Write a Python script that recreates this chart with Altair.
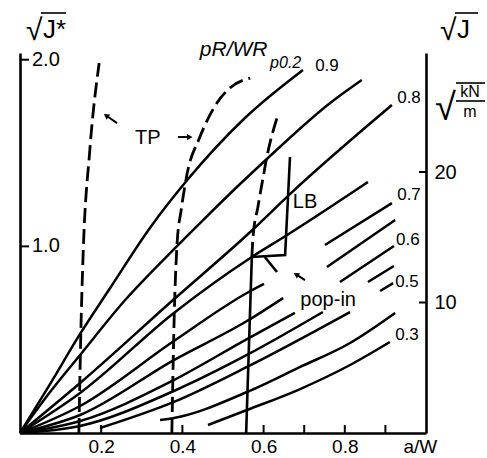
import altair as alt
import pandas as pd

FONT = "Liberation Sans"

# Constant-load curves pR/WR_p0.2: crack depth a/W against sqrt(J) in sqrt(kN/m)
AW_90 = [0, 0.074, 0.148, 0.222, 0.320, 0.414, 0.554, 0.697]
SJ_90 = [0, 3.75, 7.59, 11.11, 15.71, 19.46, 24.14, 27.82]
AW_85 = [0, 0.074, 0.148, 0.259, 0.377, 0.451, 0.542, 0.608, 0.764, 0.842]
SJ_85 = [0, 3.14, 5.98, 10.19, 14.02, 16.32, 19.08, 21.00, 25.29, 27.05]
AW_80 = [0, 0.148, 0.377, 0.567, 0.665, 0.916]
SJ_80 = [0, 3.83, 10.19, 15.40, 18.31, 25.13]
AW_75 = [0, 0.148, 0.379, 0.571, 0.658, 0.857]
SJ_75 = [0, 3.07, 9.20, 13.49, 15.17, 19.23]
AW_70 = [0, 0.148, 0.379, 0.559, 0.601]
SJ_70 = [0, 2.07, 7.05, 10.73, 11.42]
AW_70B = [0.751, 0.916]
SJ_70B = [14.41, 17.62]
AW_65 = [0, 0.148, 0.379, 0.559, 0.648]
SJ_65 = [0, 1.38, 5.59, 8.58, 10.34]
AW_65B = [0.756, 0.924]
SJ_65B = [12.72, 16.32]
AW_60 = [0, 0.148, 0.379, 0.559, 0.677]
SJ_60 = [0, 0.92, 4.06, 7.20, 9.20]
AW_60B = [0.788, 0.921]
SJ_60B = [11.57, 14.33]
AW_55 = [0, 0.148, 0.379, 0.559, 0.746]
SJ_55 = [0, 0.54, 3.22, 5.98, 9.27]
AW_55B = [0.857, 0.921]
SJ_55B = [11.57, 12.80]
AW_50 = [0.197, 0.379, 0.559, 0.813]
SJ_50 = [0.38, 2.38, 5.06, 9.27]
AW_50B = [0.887, 0.919]
SJ_50B = [10.88, 11.49]
AW_40 = [0.345, 0.379, 0.559, 0.690, 0.813, 0.924]
SJ_40 = [1.00, 1.15, 3.14, 5.06, 6.90, 9.20]
AW_30 = [0.463, 0.559, 0.690, 0.813, 0.911]
SJ_30 = [0.61, 1.76, 3.37, 5.21, 6.97]

# Transition (TP) boundaries, dashed
AW_TP1 = [0.145, 0.150, 0.155, 0.172, 0.195]
SJ_TP1 = [0, 7.89, 13.26, 21.69, 28.35]
AW_TP2 = [0.374, 0.379, 0.387, 0.397, 0.411, 0.443, 0.485, 0.517, 0.567]
SJ_TP2 = [0, 7.89, 14.56, 17.09, 19.77, 22.68, 25.29, 26.44, 27.20]
AW_TP3 = [0.571, 0.574, 0.586, 0.599, 0.608, 0.633]
SJ_TP3 = [13.49, 15.02, 17.32, 19.62, 21.15, 24.14]
# solid lower part of the third boundary
AW_TP3S = [0.557, 0.571]
SJ_TP3S = [0, 13.49]
# limit-load (LB) boundary and pop-in mark
AW_LB = [0.571, 0.653, 0.665]
SJ_LB = [13.49, 13.64, 21.15]
AW_POP = [0.603, 0.633]
SJ_POP = [13.49, 12.34]

# Curve end labels
LOAD_LABELS = ["0.9", "0.8", "0.7", "0.6", "0.5", "0.3"]
LOAD_LABEL_AW = [0.727, 0.929, 0.929, 0.926, 0.924, 0.924]
LOAD_LABEL_SJ = [28.12, 25.67, 18.24, 14.79, 11.57, 7.51]

# Region annotations
NOTE_TEXT = ["TP", "LB", "pop-in"]
NOTE_AW = [0.315, 0.702, 0.759]
NOTE_SJ = [22.61, 17.70, 10.19]

# Arrows: tail and head positions, head direction in degrees
ARROW_TAIL_AW = [0.239, 0.389, 0.702]
ARROW_TAIL_SJ = [23.75, 22.68, 11.72]
ARROW_HEAD_AW = [0.214, 0.416, 0.682]
ARROW_HEAD_SJ = [24.29, 22.68, 12.11]
ARROW_ANGLE = [305, 90, 302]

# Axes
X_TICKS = [0.2, 0.4, 0.6, 0.7, 0.8, 0.9]
X_LABELS = [0.2, 0.4, 0.6, 0.8, 0.985]
RIGHT_TICKS = [10, 20]
LEFT_TICKS = [1.0, 2.0]
LEFT_TICK_LABELS = ["1.0", "2.0"]

W, H = 406, 380
SJ_MAX = 29.12
LEFT_MAX = 2.036


def frame(pairs):
    rows = []
    for name, aw, sj in pairs:
        for k, (a, s) in enumerate(zip(aw, sj)):
            rows.append({"seg": name, "aw": a, "sj": s, "k": k})
    return pd.DataFrame(rows)


curves = frame([
    ("0.9", AW_90, SJ_90), ("0.85", AW_85, SJ_85), ("0.8", AW_80, SJ_80),
    ("0.75", AW_75, SJ_75), ("0.7", AW_70, SJ_70), ("0.7b", AW_70B, SJ_70B),
    ("0.65", AW_65, SJ_65), ("0.65b", AW_65B, SJ_65B), ("0.6", AW_60, SJ_60),
    ("0.6b", AW_60B, SJ_60B), ("0.55", AW_55, SJ_55), ("0.55b", AW_55B, SJ_55B),
    ("0.5", AW_50, SJ_50), ("0.5b", AW_50B, SJ_50B), ("0.4", AW_40, SJ_40),
    ("0.3", AW_30, SJ_30),
])
straight = frame([
    ("tp3s", AW_TP3S, SJ_TP3S), ("lb", AW_LB, SJ_LB), ("pop", AW_POP, SJ_POP),
])
dashed = frame([("tp1", AW_TP1, SJ_TP1), ("tp2", AW_TP2, SJ_TP2), ("tp3", AW_TP3, SJ_TP3)])

x_scale = alt.Scale(domain=[0, 1], nice=False)
y_scale = alt.Scale(domain=[0, SJ_MAX], nice=False)

x_axis = alt.Axis(
    values=X_LABELS, labelExpr="datum.value > 0.9 ? 'a/W' : format(datum.value, '.1f')",
    ticks=False, grid=False, title=None, domainColor="black", domainWidth=2.6,
    labelFont=FONT, labelFontSize=19, labelColor="black", labelPadding=4,
)
y_axis = alt.Axis(
    orient="right", values=RIGHT_TICKS, ticks=False, grid=False, title=None,
    domainColor="black", domainWidth=2.6, labelFont=FONT, labelFontSize=20,
    labelColor="black", labelPadding=8,
)

X = alt.X("aw:Q", scale=x_scale, axis=x_axis)
Y = alt.Y("sj:Q", scale=y_scale, axis=y_axis)

solid_lines = alt.Chart(curves).mark_line(
    color="black", strokeWidth=2.5, interpolate="monotone", clip=False
).encode(x=X, y=Y, detail="seg:N", order="k:Q")

straight_lines = alt.Chart(straight).mark_line(
    color="black", strokeWidth=2.6, clip=False
).encode(x=X, y=Y, detail="seg:N", order="k:Q")

dashed_lines = alt.Chart(dashed).mark_line(
    color="black", strokeWidth=2.8, strokeDash=[15, 6], interpolate="monotone", clip=False
).encode(x=X, y=Y, detail="seg:N", order="k:Q")

x_ticks = alt.Chart(pd.DataFrame({"aw": X_TICKS})).mark_rule(
    color="black", strokeWidth=2
).encode(x="aw:Q", y=alt.value(H), y2=alt.value(H - 8))

right_ticks = alt.Chart(pd.DataFrame({"sj": RIGHT_TICKS})).mark_rule(
    color="black", strokeWidth=2
).encode(y="sj:Q", x=alt.value(W), x2=alt.value(W - 7))

load_labels = alt.Chart(pd.DataFrame({
    "label": LOAD_LABELS, "aw": LOAD_LABEL_AW, "sj": LOAD_LABEL_SJ
})).mark_text(
    font=FONT, fontSize=17, align="left", baseline="middle", color="black", clip=False
).encode(x="aw:Q", y="sj:Q", text="label:N")

notes = alt.Chart(pd.DataFrame({
    "label": NOTE_TEXT, "aw": NOTE_AW, "sj": NOTE_SJ
})).mark_text(
    font=FONT, fontSize=20, align="center", baseline="middle", color="black"
).encode(x="aw:Q", y="sj:Q", text="label:N")

arrows = pd.DataFrame({
    "aw": ARROW_TAIL_AW, "sj": ARROW_TAIL_SJ,
    "aw2": ARROW_HEAD_AW, "sj2": ARROW_HEAD_SJ, "ang": ARROW_ANGLE,
})
arrow_shafts = alt.Chart(arrows).mark_rule(color="black", strokeWidth=2).encode(
    x="aw:Q", y="sj:Q", x2="aw2:Q", y2="sj2:Q"
)
arrow_heads = alt.Chart(arrows).mark_point(
    shape="triangle", filled=True, color="black", size=40, opacity=1
).encode(x="aw2:Q", y="sj2:Q", angle=alt.Angle("ang:Q", scale=None))

# Heading for the curve family
heading_main = alt.Chart(pd.DataFrame({"t": ["pR/WR"], "aw": [0.443], "sj": [29.35]})).mark_text(
    font=FONT, fontSize=21, fontStyle="italic", align="left", baseline="middle", clip=False
).encode(x="aw:Q", y="sj:Q", text="t:N")
heading_sub = alt.Chart(pd.DataFrame({"t": ["p0.2"], "aw": [0.616], "sj": [28.35]})).mark_text(
    font=FONT, fontSize=16, fontStyle="italic", align="left", baseline="middle", clip=False
).encode(x="aw:Q", y="sj:Q", text="t:N")


def deco_text(text, px, py, size, align="left", baseline="alphabetic", style="normal"):
    return alt.Chart(alt.Data(values=[{}])).mark_text(
        text=text, font=FONT, fontSize=size, align=align, baseline=baseline,
        fontStyle=style, color="black",
    ).encode(x=alt.value(px - 20), y=alt.value(py - 53))


def deco_bar(px1, px2, py):
    return alt.Chart(alt.Data(values=[{}])).mark_rule(color="black", strokeWidth=1.6).encode(
        x=alt.value(px1 - 20), x2=alt.value(px2 - 20), y=alt.value(py - 53)
    )


titles = [
    deco_text("√", 26, 40, 30),
    deco_text("J*", 43, 38, 26),
    deco_bar(41, 66, 13),
    deco_text("√", 440, 40, 30),
    deco_text("J", 457, 38, 26),
    deco_bar(455, 478, 13),
    deco_text("√", 435, 120, 38),
    deco_text("kN", 470, 97, 16, align="center"),
    deco_text("m", 470, 117, 16, align="center"),
    deco_bar(456, 485, 101),
    deco_bar(456, 485, 83),
]

main = alt.layer(
    solid_lines, straight_lines, dashed_lines, x_ticks, right_ticks,
    load_labels, notes, arrow_shafts, arrow_heads, heading_main, heading_sub, *titles
)

# Left axis in normalised units sqrt(J*)
left_df = pd.DataFrame({"v": LEFT_TICKS, "label": LEFT_TICK_LABELS})
left_y = alt.Y("v:Q", scale=alt.Scale(domain=[0, LEFT_MAX], nice=False), axis=alt.Axis(
    orient="left", labels=False, ticks=False, grid=False, title=None,
    domainColor="black", domainWidth=2.6,
))
left_ticks = alt.Chart(left_df).mark_rule(color="black", strokeWidth=2).encode(
    y=left_y, x=alt.value(0), x2=alt.value(9)
)
left_labels = alt.Chart(left_df).mark_text(
    font=FONT, fontSize=20, align="left", baseline="middle", color="black"
).encode(y=alt.Y("v:Q"), x=alt.value(12), text="label:N")
left = alt.layer(left_ticks, left_labels)

chart = alt.layer(main, left).resolve_scale(y="independent").properties(
    width=W, height=H,
    autosize=alt.AutoSizeParams(type="none"),
    padding={"left": 20, "top": 53, "right": 61, "bottom": 25},
    background="white",
).configure_view(stroke=None)

chart.save("out.html", embed_options={"renderer": "svg", "actions": False})
